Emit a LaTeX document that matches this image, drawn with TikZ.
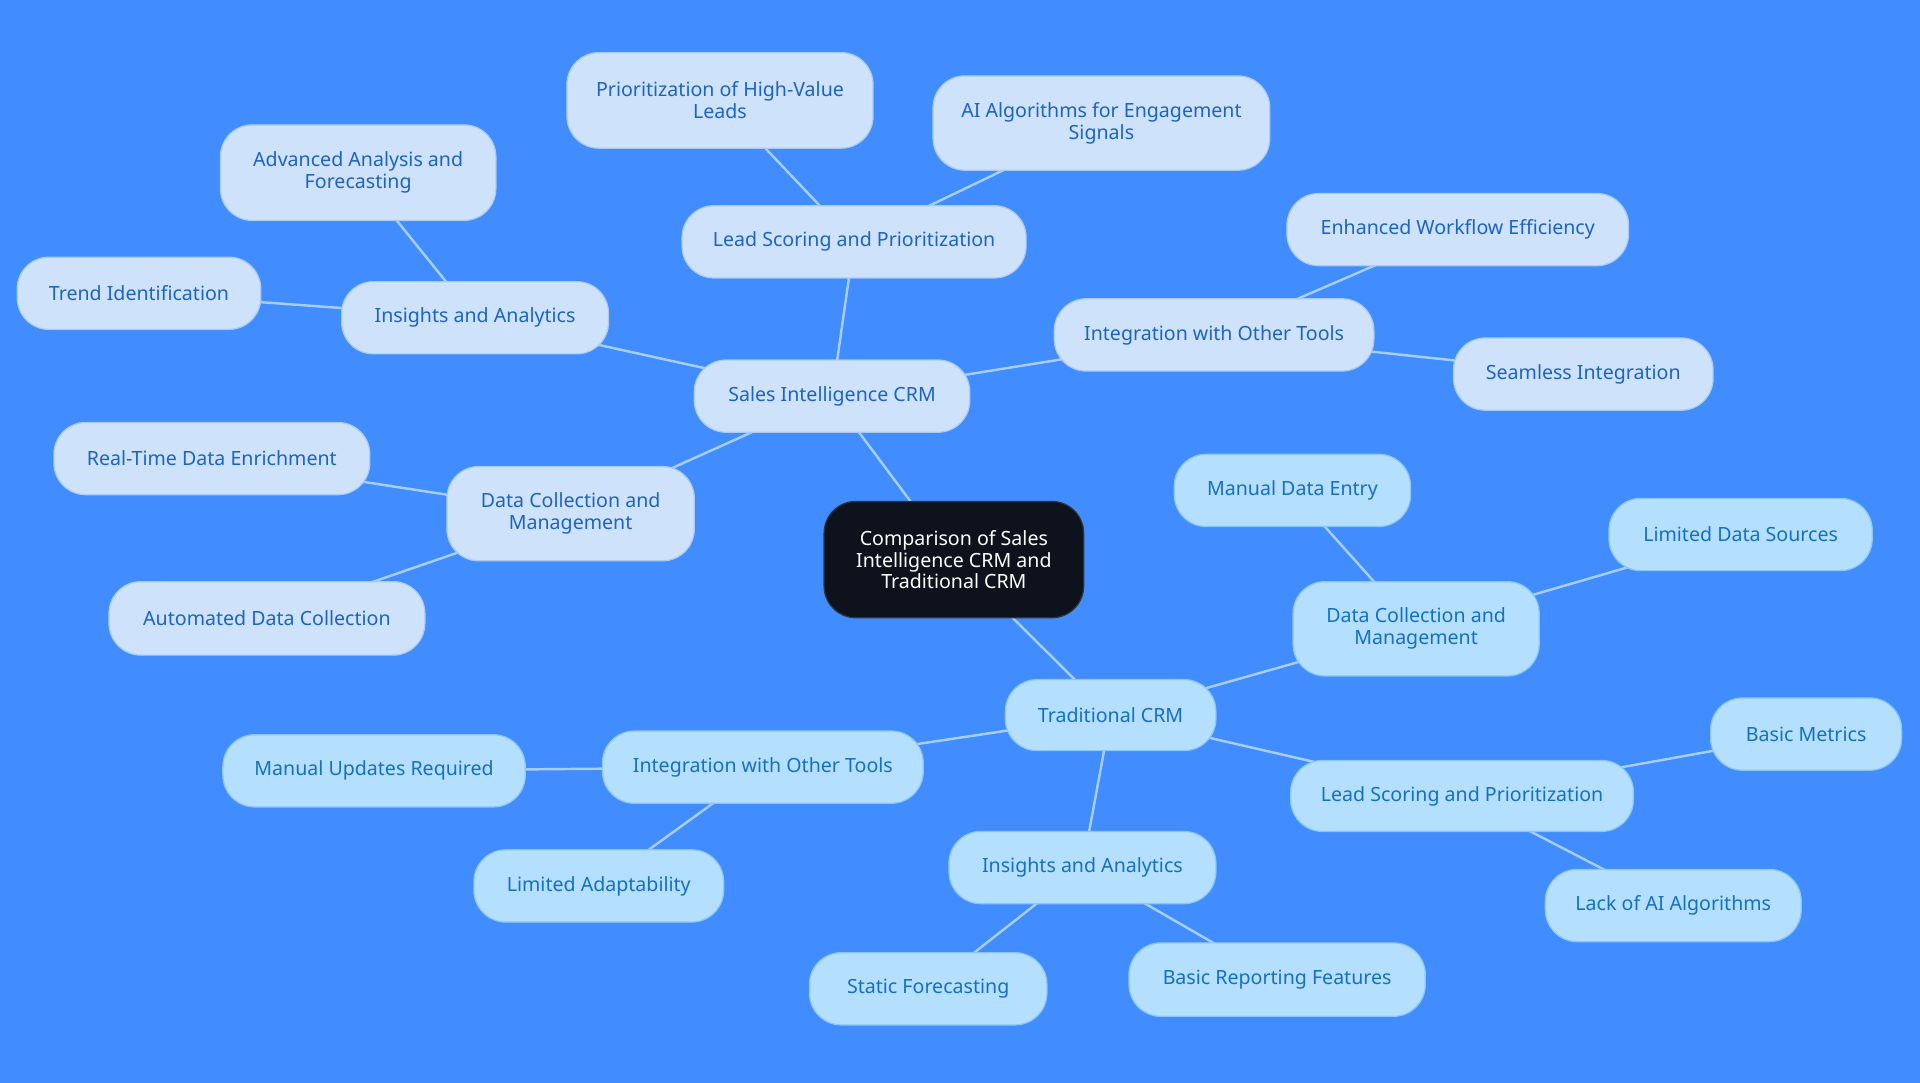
\documentclass[tikz,border=0pt]{standalone}
\usepackage{fontspec}
\setmainfont{Noto Sans}
\usetikzlibrary{backgrounds}
\definecolor{bg}{HTML}{418CFF}
\definecolor{siFill}{HTML}{CEE3FB}
\definecolor{siDraw}{HTML}{A9CBF3}
\definecolor{siText}{HTML}{1D63C3}
\definecolor{trFill}{HTML}{B4DFFE}
\definecolor{trDraw}{HTML}{8CC6F5}
\definecolor{trText}{HTML}{1570C4}
\definecolor{ctrFill}{HTML}{0D121C}
\definecolor{edge}{HTML}{A6CEFA}
\tikzset{
  base/.style={rounded corners=26pt, line width=1pt, align=center, inner sep=0pt,
    font=\fontsize{16}{18}\selectfont, minimum height=59pt},
  si/.style={base, fill=siFill, draw=siDraw, text=siText},
  tr/.style={base, fill=trFill, draw=trDraw, text=trText},
  ctr/.style={base, fill=ctrFill, draw=ctrFill!70!gray, text=white, font=\fontsize{16}{17.5}\selectfont},
  link/.style={draw=edge, line width=2pt}
}
\begin{document}
\begin{tikzpicture}[x=1pt,y=-1pt]
\useasboundingbox (0,0) rectangle (1568,884.4);
% center
\node[ctr, minimum width=212pt, minimum height=95pt] (c) at (779,457) {Comparison of Sales\\Intelligence CRM and\\Traditional CRM};
% sales intelligence
\node[si, minimum width=225pt] (s) at (679.5,323.5) {Sales Intelligence CRM};
\node[si, minimum width=281pt] (sl) at (697.5,197.5) {Lead Scoring and Prioritization};
\node[si, minimum width=250pt, minimum height=78pt] (sl1) at (588,82) {Prioritization of High-Value\\Leads};
\node[si, minimum width=275pt, minimum height=77pt] (sl2) at (899.5,100.5) {AI Algorithms for Engagement\\Signals};
\node[si, minimum width=218pt] (sa) at (388,259.5) {Insights and Analytics};
\node[si, minimum width=225pt, minimum height=78pt] (sa1) at (292.5,141) {Advanced Analysis and\\Forecasting};
\node[si, minimum width=199pt] (sa2) at (113.5,239.5) {Trend Identification};
\node[si, minimum width=261pt] (si) at (991.5,273.5) {Integration with Other Tools};
\node[si, minimum width=279pt] (si1) at (1190.5,187.5) {Enhanced Workflow Efficiency};
\node[si, minimum width=212pt] (si2) at (1293,305.5) {Seamless Integration};
\node[si, minimum width=202pt, minimum height=77pt] (sd) at (466,419.5) {Data Collection and\\Management};
\node[si, minimum width=258pt] (sd1) at (173,374.5) {Real-Time Data Enrichment};
\node[si, minimum width=258pt, minimum height=60pt] (sd2) at (218,505) {Automated Data Collection};
% traditional
\node[tr, minimum width=172pt, minimum height=58pt] (t) at (907,584) {Traditional CRM};
\node[tr, minimum width=201pt, minimum height=77pt] (td) at (1156.5,513.5) {Data Collection and\\Management};
\node[tr, minimum width=193pt] (td1) at (1055.5,400.5) {Manual Data Entry};
\node[tr, minimum width=215pt] (td2) at (1421.5,436.5) {Limited Data Sources};
\node[tr, minimum width=280pt, minimum height=58pt] (tl) at (1194,650) {Lead Scoring and Prioritization};
\node[tr, minimum width=156pt] (tl1) at (1475,599.5) {Basic Metrics};
\node[tr, minimum width=209pt] (tl2) at (1366.5,739.5) {Lack of AI Algorithms};
\node[tr, minimum width=218pt] (ta) at (884,708.5) {Insights and Analytics};
\node[tr, minimum width=194pt] (ta1) at (758,807.5) {Static Forecasting};
\node[tr, minimum width=242pt, minimum height=60pt] (ta2) at (1043,800) {Basic Reporting Features};
\node[tr, minimum width=262pt] (ti) at (623,626.5) {Integration with Other Tools};
\node[tr, minimum width=247pt] (ti1) at (305.5,629.5) {Manual Updates Required};
\node[tr, minimum width=204pt] (ti2) at (489,723.5) {Limited Adaptability};
\begin{scope}[on background layer]
\fill[bg] (0,0) rectangle (1568,884.4);
\foreach \a/\b in {c/s, c/t, s/sl, sl/sl1, sl/sl2, s/sa, sa/sa1, sa/sa2, s/si, si/si1, si/si2, s/sd, sd/sd1, sd/sd2,
  t/td, td/td1, td/td2, t/tl, tl/tl1, tl/tl2, t/ta, ta/ta1, ta/ta2, t/ti, ti/ti1, ti/ti2}
  \draw[link] (\a.center) -- (\b.center);
\end{scope}
\end{tikzpicture}
\end{document}
